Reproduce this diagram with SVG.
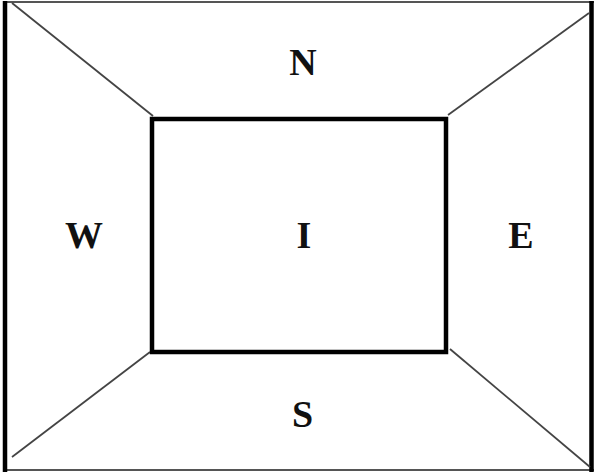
<svg xmlns="http://www.w3.org/2000/svg" width="596" height="473" viewBox="0 0 596 473">
<style>
.lbl{font-family:"Liberation Serif","Times New Roman",serif;font-weight:bold;font-size:38px;fill:#111;text-anchor:middle}
.thick{stroke:#000;stroke-width:4.5;fill:none}
.thin{stroke:#555;stroke-width:2;fill:none}
.diag{stroke:#444;stroke-width:1.8;fill:none}
</style>
<rect width="596" height="473" fill="#fff"/>
<g id="frame">
<line class="thin" x1="4" y1="2" x2="594" y2="2"/>
<line class="thin" x1="4" y1="470" x2="594" y2="470"/>
<line class="thick" x1="5" y1="1" x2="5" y2="472"/>
<line class="thick" x1="591.5" y1="1" x2="591.5" y2="472"/>
</g>
<g id="connectors">
<line class="diag" x1="12" y1="3" x2="153" y2="116"/>
<line class="diag" x1="589" y1="13" x2="448" y2="115"/>
<line class="diag" x1="12" y1="457" x2="150" y2="352"/>
<line class="diag" x1="450" y1="349" x2="590" y2="467"/>
</g>
<g id="I">
<rect class="thick" x="152" y="119" width="294" height="233" stroke-width="4"/>
<text class="lbl" x="304" y="248">I</text>
</g>
<g id="N"><text class="lbl" x="303" y="75">N</text></g>
<g id="W"><text class="lbl" x="84" y="248">W</text></g>
<g id="E"><text class="lbl" x="521" y="248">E</text></g>
<g id="S"><text class="lbl" x="302.5" y="427">S</text></g>
</svg>
